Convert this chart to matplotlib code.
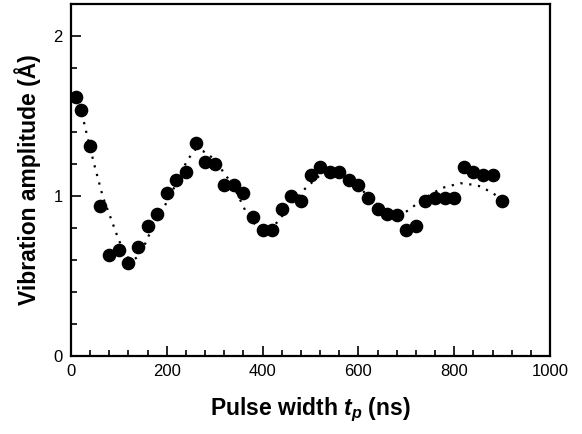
import numpy as np
import matplotlib
matplotlib.use("Agg")
import matplotlib.pyplot as plt
from matplotlib.ticker import MultipleLocator

# measured amplitudes vs pulse width
pulse_ns = [10, 20, 40, 60, 80, 100, 120, 140, 160, 180, 200, 220, 240, 260, 280,
            300, 320, 340, 360, 380, 400, 420, 440, 460, 480, 500, 520, 540, 560,
            580, 600, 620, 640, 660, 680, 700, 720, 740, 760, 780, 800, 820, 840,
            860, 880, 900]
amplitude = [1.62, 1.54, 1.31, 0.94, 0.63, 0.66, 0.58, 0.68, 0.81, 0.89, 1.02, 1.10,
             1.15, 1.33, 1.21, 1.20, 1.07, 1.07, 1.02, 0.87, 0.79, 0.79, 0.92, 1.00,
             0.97, 1.13, 1.18, 1.15, 1.15, 1.10, 1.07, 0.99, 0.92, 0.89, 0.88, 0.79,
             0.81, 0.97, 0.99, 0.99, 0.99, 1.18, 1.15, 1.13, 1.13, 0.97]

# dotted guide curve
fit_ns = [10, 20, 35, 50, 67, 82, 99, 116, 130, 144, 165, 196, 220, 242, 259, 276,
          295, 311, 330, 346, 367, 385, 402, 420, 437, 460, 490, 520, 545, 570,
          600, 630, 660, 685, 708, 740, 774, 813, 840, 855, 879, 900]
fit_amp = [1.62, 1.55, 1.36, 1.18, 0.99, 0.87, 0.73, 0.62, 0.60, 0.63, 0.77, 0.94,
           1.08, 1.22, 1.29, 1.28, 1.24, 1.18, 1.10, 1.02, 0.89, 0.82, 0.79, 0.80,
           0.86, 0.95, 1.05, 1.13, 1.15, 1.13, 1.06, 0.97, 0.90, 0.87, 0.92, 0.99,
           1.05, 1.08, 1.07, 1.06, 1.02, 0.98]

plt.rcParams['font.family'] = ['Liberation Sans', 'DejaVu Sans']
plt.rcParams['mathtext.fontset'] = 'custom'
plt.rcParams['mathtext.it'] = 'Liberation Sans:italic:bold'
plt.rcParams['mathtext.rm'] = 'Liberation Sans:bold'

fig = plt.figure(figsize=(5.82, 4.34), dpi=100)
ax = fig.add_axes([71 / 582, 1 - 356 / 434, 479 / 582, 352 / 434])

ax.plot(fit_ns, fit_amp, color='black', linestyle=(0, (1, 3)), linewidth=1.6)
ax.plot(pulse_ns, amplitude, 'o', color='black', markersize=8.8)

ax.set_xlim(0, 1000)
ax.set_ylim(0, 2.2)
ax.xaxis.set_major_locator(MultipleLocator(200))
ax.xaxis.set_minor_locator(MultipleLocator(40))
ax.yaxis.set_major_locator(MultipleLocator(1))
ax.yaxis.set_minor_locator(MultipleLocator(0.2))
ax.tick_params(which='both', direction='in', top=False, right=False,
               labelsize=12, width=1.2)
ax.tick_params(which='major', length=7, pad=6)
ax.tick_params(which='minor', length=4)
for s in ax.spines.values():
    s.set_linewidth(1.6)

ax.set_xlabel(r'Pulse width $t_p$ (ns)', fontsize=16.5, fontweight='bold', labelpad=12)
ax.set_ylabel('Vibration amplitude (Å)', fontsize=16.5, fontweight='bold', labelpad=9)

fig.savefig('out.png', dpi=100)
